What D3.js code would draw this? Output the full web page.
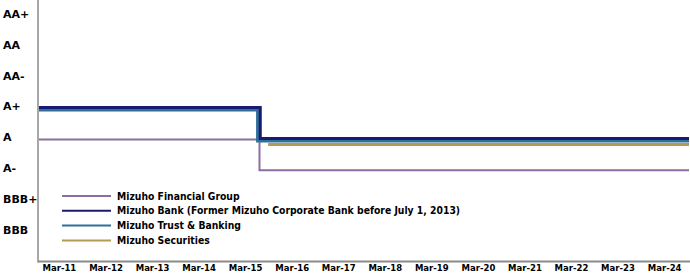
<!DOCTYPE html>
<html>
<head>
<meta charset="utf-8">
<script src="https://cdn.jsdelivr.net/npm/d3@7"></script>
<style>
  body { margin: 0; background: #fff; }
  svg { display: block; }
  text { font-family: "DejaVu Sans", Verdana, sans-serif; font-weight: bold; fill: #000; }
</style>
</head>
<body>
<div id="chart"></div>
<script>
// rating scale, lowest first
var ratings = ["BBB", "BBB+", "A-", "A", "A+", "AA-", "AA", "AA+"];

var xTickLabels = ["Mar-11", "Mar-12", "Mar-13", "Mar-14", "Mar-15", "Mar-16", "Mar-17",
                   "Mar-18", "Mar-19", "Mar-20", "Mar-21", "Mar-22", "Mar-23", "Mar-24"];

var seriesNames = ["Mizuho Financial Group",
                   "Mizuho Bank (Former Mizuho Corporate Bank before July 1, 2013)",
                   "Mizuho Trust & Banking",
                   "Mizuho Securities"];

// rating history: [date, rating]
var mfgHistory = [["2011-03-01", "A"], ["2015-11-25", "A-"], ["2025-02-15", "A-"]];
var bankHistory = [["2011-03-01", "A+"], ["2015-12-01", "A"], ["2025-02-15", "A"]];
var trustHistory = [["2011-03-01", "A+"], ["2015-11-10", "A"], ["2025-02-15", "A"]];
var securitiesHistory = [["2016-02-01", "A"], ["2025-02-15", "A"]];

var histories = [mfgHistory, bankHistory, trustHistory, securitiesHistory];
var colors = ["#8c6ea2", "#1b1a72", "#2f6f98", "#b39a55"];
var widths = [2, 3, 3, 3];
var nudges = [0, -1, 1.5, 5];   // pixel nudge so overlapping lines stay visible

var W = 690, H = 278;
var margin = {left: 38, top: 0, right: 1, bottom: 16};
var parse = d3.timeParse("%Y-%m-%d");

var svg = d3.select("#chart").append("svg").attr("width", W).attr("height", H);

var x = d3.scaleTime()
    .domain([parse("2011-03-01"), parse("2025-02-15")])
    .range([margin.left + 1, W - margin.right]);

var y = d3.scalePoint()
    .domain(ratings)
    .range([232, 16]);

// y labels
svg.append("g").selectAll("text")
    .data(ratings).enter().append("text")
    .attr("x", 3)
    .attr("y", function(d) { return y(d) - 2; })
    .attr("dy", "0.35em")
    .style("font-size", "11px")
    .text(function(d) { return d; });

// axes lines
var axisY = H - margin.bottom - 0.5;
svg.append("line")
    .attr("x1", margin.left).attr("x2", margin.left)
    .attr("y1", 0).attr("y2", axisY + 1)
    .attr("stroke", "#8a8a8a").attr("stroke-width", 1.5);
svg.append("line")
    .attr("x1", margin.left).attr("x2", W)
    .attr("y1", axisY).attr("y2", axisY)
    .attr("stroke", "#8a8a8a").attr("stroke-width", 2);

// x tick labels, left aligned at each March
var xAxis = d3.axisBottom(x)
    .tickValues(xTickLabels.map(function(t) { return d3.timeParse("%b-%y")(t); }))
    .tickFormat(d3.timeFormat("%b-%y"))
    .tickSize(0)
    .tickPadding(0);
var gx = svg.append("g").attr("transform", "translate(0," + (axisY + 3) + ")").call(xAxis);
gx.select(".domain").remove();
gx.selectAll("text")
    .attr("text-anchor", "start")
    .attr("dx", 3)
    .style("font-family", "\"DejaVu Sans\", Verdana, sans-serif")
    .style("font-weight", "bold")
    .style("font-size", "8.5px")
    .attr("fill", "#000");

// series as step lines
var line = d3.line()
    .curve(d3.curveStepAfter);

var order = [0, 3, 2, 1];
order.forEach(function(i) {
    var pts = histories[i].map(function(h) {
        return [x(parse(h[0])), y(h[1]) + nudges[i]];
    });
    svg.append("path")
        .attr("d", line(pts))
        .attr("fill", "none")
        .attr("stroke", colors[i])
        .attr("stroke-width", widths[i]);
});

// legend
var legend = svg.append("g").attr("transform", "translate(62,196)");
var rows = legend.selectAll("g").data(seriesNames).enter().append("g")
    .attr("transform", function(d, i) { return "translate(0," + (i * 14.8) + ")"; });
rows.append("line")
    .attr("x1", 0).attr("x2", 49)
    .attr("stroke", function(d, i) { return colors[i]; })
    .attr("stroke-width", 2);
rows.append("text")
    .attr("x", 55)
    .attr("dy", "0.35em")
    .style("font-size", "10.3px")
    .style("font-family", "\"DejaVu Sans Condensed\", \"DejaVu Sans\", sans-serif")
    .text(function(d) { return d; });
</script>
</body>
</html>
